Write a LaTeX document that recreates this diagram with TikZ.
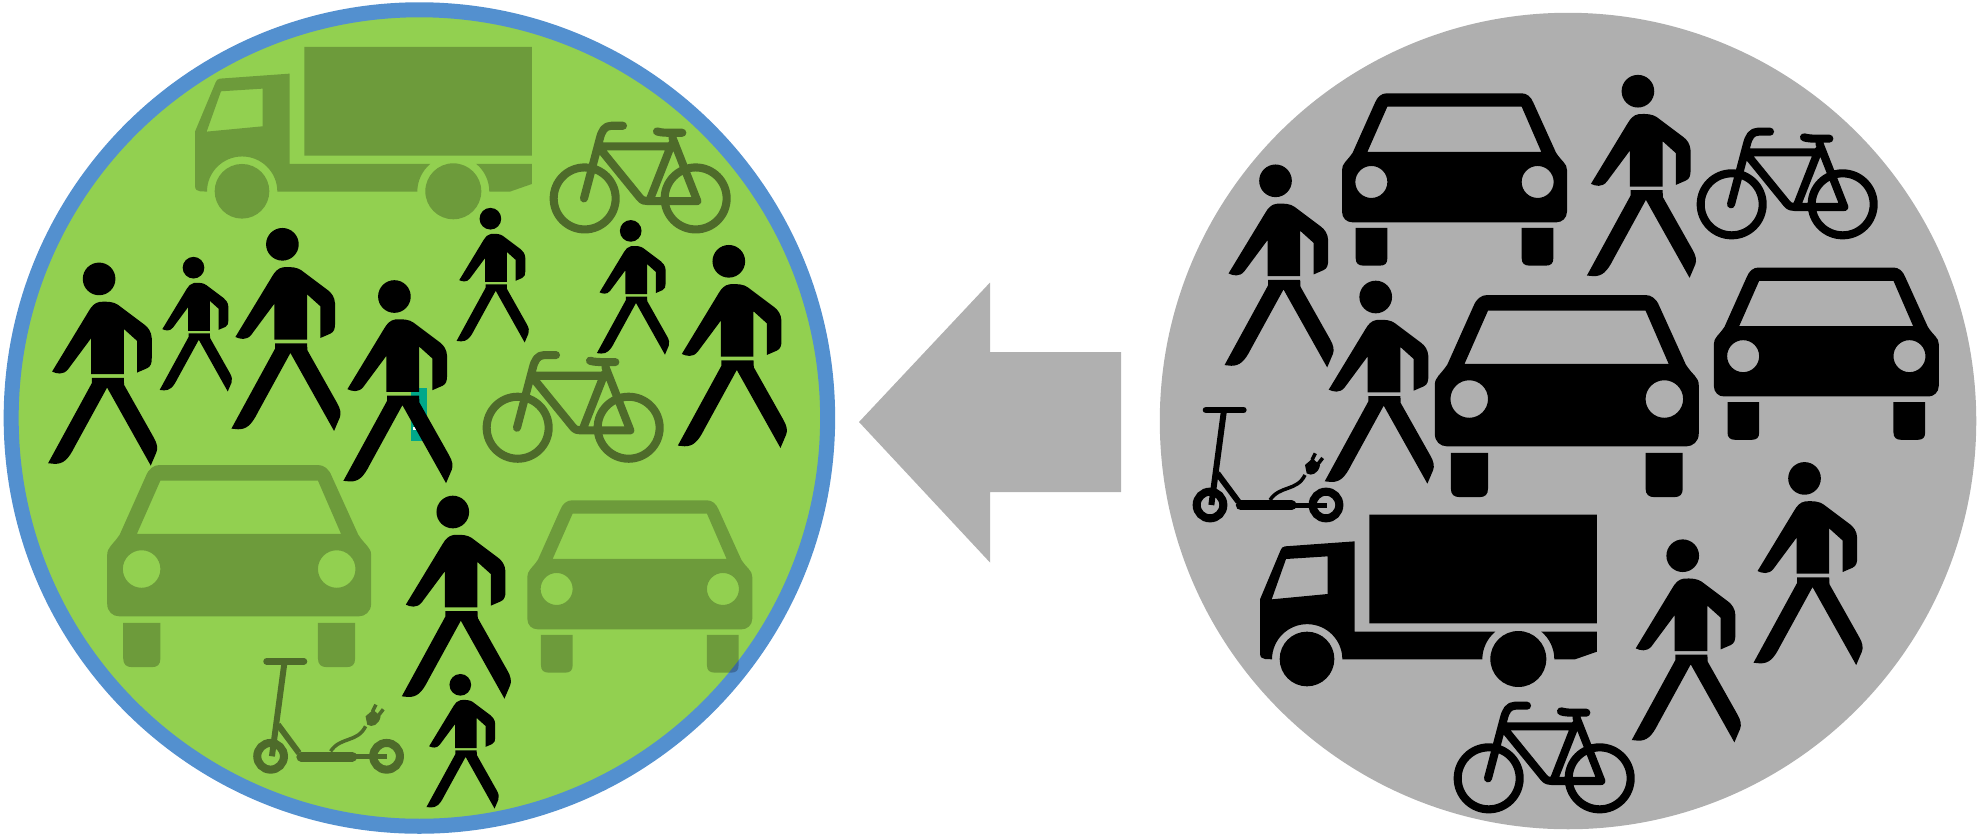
\documentclass[tikz,border=0pt]{standalone}
\usepackage{xcolor}
\definecolor{zonegreen}{HTML}{92D050}
\definecolor{zoneblue}{HTML}{5390CF}
\definecolor{zonegray}{HTML}{AFAFAF}
\definecolor{arrowgray}{HTML}{B0B0B0}
\definecolor{patchteal}{HTML}{00A88A}
\definecolor{cycleshade}{HTML}{4E6B2A}

\tikzset{
  faded/.style={fill=black,fill opacity=0.25},
  solid/.style={fill=black},
  zone/.style={draw=none,circle,inner sep=0pt,outer sep=0pt,minimum size=8.16cm},
  pics/walker/.style={code={
    \fill[black] (0,0) circle [radius=49];
    \fill[black,shift={(-178,-72)}] (180,141) .. controls (165,143) and (155,155) .. (148,167) -- (37,350) .. controls (50,356) and (70,362) .. (85,343) -- (154,250) -- (154,358) -- (252,358) -- (252,222) -- (292,258) -- (292,353) -- (322,340) .. controls (333,335) and (336,325) .. (336,310) -- (336,250) .. controls (335,230) and (325,218) .. (315,210) -- (235,150) .. controls (222,141) and (205,139) .. (180,141) -- cycle;
    \fill[black,shift={(-178,-72)}] (156,369) -- (252,369) -- (253,390) -- (342,548) .. controls (352,565) and (355,580) .. (350,592) -- (333,632) -- (202,398) -- (105,575) .. controls (85,615) and (70,627) .. (45,627) -- (25,625) -- (156,385) -- cycle;
  }},
  pics/car/.style={code={
    \fill[#1,even odd rule,shift={(-36,-40)}] (36,270) .. controls (36,250) and (50,245) .. (68,218) -- (135,68) .. controls (142,50) and (155,40) .. (170,40) -- (575,40) .. controls (590,40) and (603,50) .. (610,68) -- (678,218) .. controls (695,245) and (711,250) .. (711,270) -- (711,395) .. controls (711,415) and (695,427) .. (680,427) -- (67,427) .. controls (50,427) and (36,415) .. (36,395) -- cycle
      (172,80) -- (575,80) -- (634,216) -- (112,216) -- cycle
      (124,306) circle [radius=48]
      (623,306) circle [radius=48]
      (77,444) -- (172,444) -- (172,535) .. controls (172,550) and (165,557) .. (150,557) -- (100,557) .. controls (85,557) and (77,550) .. (77,535) -- cycle
      (575,444) -- (670,444) -- (670,535) .. controls (670,550) and (663,557) .. (648,557) -- (598,557) .. controls (583,557) and (575,550) .. (575,535) -- cycle;
  }},
  pics/truck/.style={code={
    \fill[#1,even odd rule] (358,44) rectangle (1041,370)
      (314,124) -- (105,139) .. controls (98,140) and (94,144) .. (92,150) -- (30,298) -- (30,462) .. controls (31,472) and (36,476) .. (45,477) -- (66,478) arc [start angle=180,end angle=360,radius=105.5] -- (697,478) arc [start angle=180,end angle=230.2,radius=108] -- (314,395) -- cycle
      (108,177) -- (233,169) -- (233,282) -- (65,298) -- cycle
      (873,395) -- (1041,395) -- (1041,455) -- (975,478) -- (913,478) arc [start angle=360,end angle=309.8,radius=108] -- cycle
      (171,477) circle [radius=82]
      (805,477) circle [radius=84];
  }},
  pics/bike/.style={code={
    \draw[#1,line width=2.3pt,line cap=round,line join=round] (125,283) circle [radius=93]
      (458,283) circle [radius=93]
      (123,283) -- (170,105) .. controls (176,80) and (185,65) .. (205,65) -- (240,65)
      (175,127) -- (388,127)
      (172,135) -- (290,280) .. controls (298,290) and (305,291) .. (315,291) -- (463,291)
      (322,283) -- (386,120)
      (388,100) -- (463,291)
      (342,82) .. controls (355,86) and (370,86) .. (385,86) -- (418,86);
  }},
  pics/scooter/.style={code={
    \draw[#1,line width=1.9pt,line cap=round] (48,60) -- (160,60);
    \draw[#1,line width=1.7pt] (102,60) -- (64,345);
    \draw[#1,line width=1.7pt] (82,250) -- (145,335);
    \draw[#1,line width=2.8pt,line cap=round] (152,346) -- (305,346);
    \draw[#1,line width=1.4pt] (305,346) -- (410,346);
    \draw[#1,line width=2.3pt] (60,345) circle [radius=40];
    \draw[#1,line width=2.3pt] (408,345) circle [radius=40];
    \draw[#1,line width=1pt] (240,330) .. controls (270,285) and (320,305) .. (345,255);
    \fill[#1] (345,225) -- (368,205) -- (390,226) .. controls (385,250) and (365,260) .. (350,250) -- cycle;
    \draw[#1,line width=1pt] (366,210) -- (376,190) (384,222) -- (398,204);
  }}
}

\begin{document}
\begin{tikzpicture}[x=0.01cm,y=-0.01cm]
    \useasboundingbox (0,0) rectangle (1977,836);

    \node[zone,fill=zonegreen,draw=zoneblue,line width=0.15cm] (leftzone) at (419.4,418) {};
    \node[zone,fill=zonegray] (rightzone) at (1568,421) {};

    \fill[arrowgray] (859,422) -- (990,282.5) -- (990,352) -- (1121,352) -- (1121,492) -- (990,492) -- (990,562.5) -- cycle;

    \fill[patchteal] (411,388) rectangle (427,441);
    \fill[white] (413,427) rectangle (416,430);

    \pic[scale=0.3333] at (185,32.3) {truck=faded};
    \pic[scale=0.3333] at (543,104.1) {bike=cycleshade};
    \pic[scale=0.3333] at (476,333.4) {bike=cycleshade};
    \pic[scale=0.391] at (107.2,465) {car=faded};
    \pic[scale=0.3333] at (527.3,500.3) {car=faded};
    \pic[scale=0.3333] at (250.6,641.3) {scooter=cycleshade};

    \pic[scale=0.3333] at (99.1,278.9) {walker};
    \pic[scale=0.221] at (193.5,267.7) {walker};
    \pic[scale=0.3333] at (282.4,244.3) {walker};
    \pic[scale=0.3333] at (394.4,296.5) {walker};
    \pic[scale=0.221] at (490.4,218.7) {walker};
    \pic[scale=0.221] at (630.7,230.9) {walker};
    \pic[scale=0.3333] at (728.8,261.3) {walker};
    \pic[scale=0.3333] at (452.8,512) {walker};
    \pic[scale=0.221] at (460.3,684.8) {walker};

    \pic[scale=0.3333] at (1342,93.3) {car=solid};
    \pic[scale=0.391] at (1434.8,295) {car=solid};
    \pic[scale=0.3333] at (1713.8,267.5) {car=solid};
    \pic[scale=0.3333] at (1250,500) {truck=solid};
    \pic[scale=0.3333] at (1690,110) {bike=black};
    \pic[scale=0.3333] at (1447,684) {bike=black};
    \pic[scale=0.3333] at (1190,390) {scooter=black};

    \pic[scale=0.3333] at (1275.5,180.8) {walker};
    \pic[scale=0.3333] at (1637.9,91.2) {walker};
    \pic[scale=0.3333] at (1375.7,297) {walker};
    \pic[scale=0.3333] at (1804.5,478.4) {walker};
    \pic[scale=0.3333] at (1682.7,555.7) {walker};
\end{tikzpicture}
\end{document}
